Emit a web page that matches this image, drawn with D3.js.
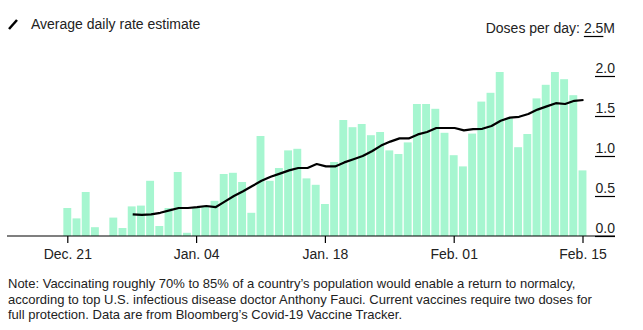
<!DOCTYPE html>
<html><head><meta charset="utf-8">
<script src="https://cdn.jsdelivr.net/npm/d3@7"></script>
<style>
body{margin:0;background:#fff;}
svg{display:block;font-family:"Liberation Sans",Arial,sans-serif;}
</style></head>
<body><svg id="c" width="643" height="330"></svg>
<script>
// ---- data ----
const startDate = "2020-12-21";
const doses = [0.35,0.22,0.55,0.11,0,0.23,0.10,0.37,0.38,0.69,0.125,
  0.35,0.80,0.04,0.35,0.37,0.44,0.775,0.79,0.675,0.29,1.25,0.69,0.85,1.07,1.09,0.72,0.64,
  0.40,0.925,1.45,1.36,1.40,1.26,1.30,1.07,1.025,1.17,1.65,1.65,1.59,1.29,
  1.01,0.87,1.28,1.68,1.79,2.05,1.47,1.11,1.275,1.72,1.89,2.05,1.96,1.76,0.82];
const avgStart = "2020-12-28";
const avgRate = [0.27,0.265,0.27,0.29,0.32,0.35,0.35,0.36,0.375,0.36,0.43,0.50,0.56,0.625,
  0.69,0.74,0.78,0.82,0.85,0.85,0.90,0.87,0.87,0.92,0.96,1.0,1.06,1.13,1.18,1.22,1.22,
  1.27,1.30,1.35,1.35,1.35,1.32,1.335,1.34,1.375,1.44,1.48,1.49,1.525,1.58,1.62,1.66,1.65,1.69,1.70];
const xTicks = ["2020-12-21","2021-01-04","2021-01-18","2021-02-01","2021-02-15"];
const xTickLabels = ["Dec. 21","Jan. 04","Jan. 18","Feb. 01","Feb. 15"];
const yTicks = [0,0.5,1,1.5,2,2.5];
const legendLabel = "Average daily rate estimate";
const yTitle = "Doses per day:";
const noteLines = [
 "Note: Vaccinating roughly 70% to 85% of a country\u2019s population would enable a return to normalcy,",
 "according to top U.S. infectious disease doctor Anthony Fauci. Current vaccines require two doses for",
 "full protection. Data are from Bloomberg\u2019s Covid-19 Vaccine Tracker."
];

// ---- helpers ----
const parse = s => { const [y,m,d] = s.split("-").map(Number); return new Date(y, m-1, d); };
const addDays = (dt, n) => new Date(dt.getFullYear(), dt.getMonth(), dt.getDate()+n);
const d0 = parse(startDate), a0 = parse(avgStart);
const barData = doses.map((v,i)=>({date:addDays(d0,i), v}));
const lineData = avgRate.map((v,i)=>({date:addDays(a0,i), v}));

const svg = d3.select("#c");
const x = d3.scaleTime()
  .domain([new Date(2020,11,14,12), new Date(2021,1,16,12)])
  .range([7.5, 596.3]);
const y = d3.scaleLinear().domain([0,2.5]).range([236,36]);
const dayW = x(new Date(2021,0,2)) - x(new Date(2021,0,1));
const bw = dayW - 1.3;

// bars
svg.append("g").selectAll("rect").data(barData.filter(d=>d.v>0)).join("rect")
  .attr("x", d=>x(d.date)-bw/2).attr("width", bw)
  .attr("y", d=>y(d.v)).attr("height", d=>y(0)-y(d.v))
  .attr("fill", "#a6f6d0");

// line
svg.append("path").datum(lineData)
  .attr("d", d3.line().x(d=>x(d.date)+1).y(d=>y(d.v)))
  .attr("fill","none").attr("stroke","#000").attr("stroke-width",2.2)
  .attr("stroke-linejoin","round");

// baseline
svg.append("line").attr("x1",7).attr("x2",615).attr("y1",y(0)).attr("y2",y(0))
  .attr("stroke","#000").attr("stroke-width",1.2);

// x axis
const xa = svg.append("g").attr("transform",`translate(0,${y(0)})`)
  .call(d3.axisBottom(x).tickValues(xTicks.map(parse))
    .tickFormat((d,i)=>xTickLabels[i]).tickSize(7).tickPadding(6));
xa.select(".domain").remove();
xa.selectAll("line").attr("stroke","#000").attr("stroke-width",1.2);
xa.selectAll("text").attr("font-size",14).attr("fill","#222")
  .attr("font-family","'Liberation Sans',Arial,sans-serif");

// y axis (labels above short underline ticks at the right)
const ya = svg.append("g").attr("transform","translate(615,0)")
  .call(d3.axisLeft(y).tickValues(yTicks)
    .tickFormat(d=> d===2.5 ? "2.5M" : d.toFixed(1)).tickSize(20));
ya.select(".domain").remove();
ya.selectAll("line").attr("stroke","#000").attr("stroke-width",1.2);
ya.selectAll("text").attr("x",0).attr("dy",null).attr("y",-4)
  .attr("text-anchor","end").attr("font-size",14).attr("fill","#222")
  .attr("font-family","'Liberation Sans',Arial,sans-serif");
// top tick: underline only "2.5", add the title before it
ya.selectAll(".tick").filter(d=>d===2.5).each(function(){
  const g = d3.select(this);
  const t = g.select("text");
  const full = t.node().getComputedTextLength();
  t.text("2.5");
  const num = t.node().getComputedTextLength();
  t.text("2.5M");
  const mW = full - num;
  g.select("line").attr("x1",-mW).attr("x2",-mW-num);
  g.append("text").attr("x",-full-4).attr("y",-4).attr("text-anchor","end")
    .attr("font-size",14).attr("fill","#222")
    .attr("font-family","'Liberation Sans',Arial,sans-serif").text(yTitle);
});

// legend
svg.append("line").attr("x1",9).attr("y1",29).attr("x2",17).attr("y2",20)
  .attr("stroke","#000").attr("stroke-width",2.5);
svg.append("text").attr("x",31).attr("y",29).attr("font-size",14).attr("fill","#222")
  .text(legendLabel);

// note
svg.append("g").selectAll("text").data(noteLines).join("text")
  .attr("x",8).attr("y",(d,i)=>288+i*15.5).attr("font-size",13).attr("fill","#222")
  .text(d=>d);
</script></body></html>
